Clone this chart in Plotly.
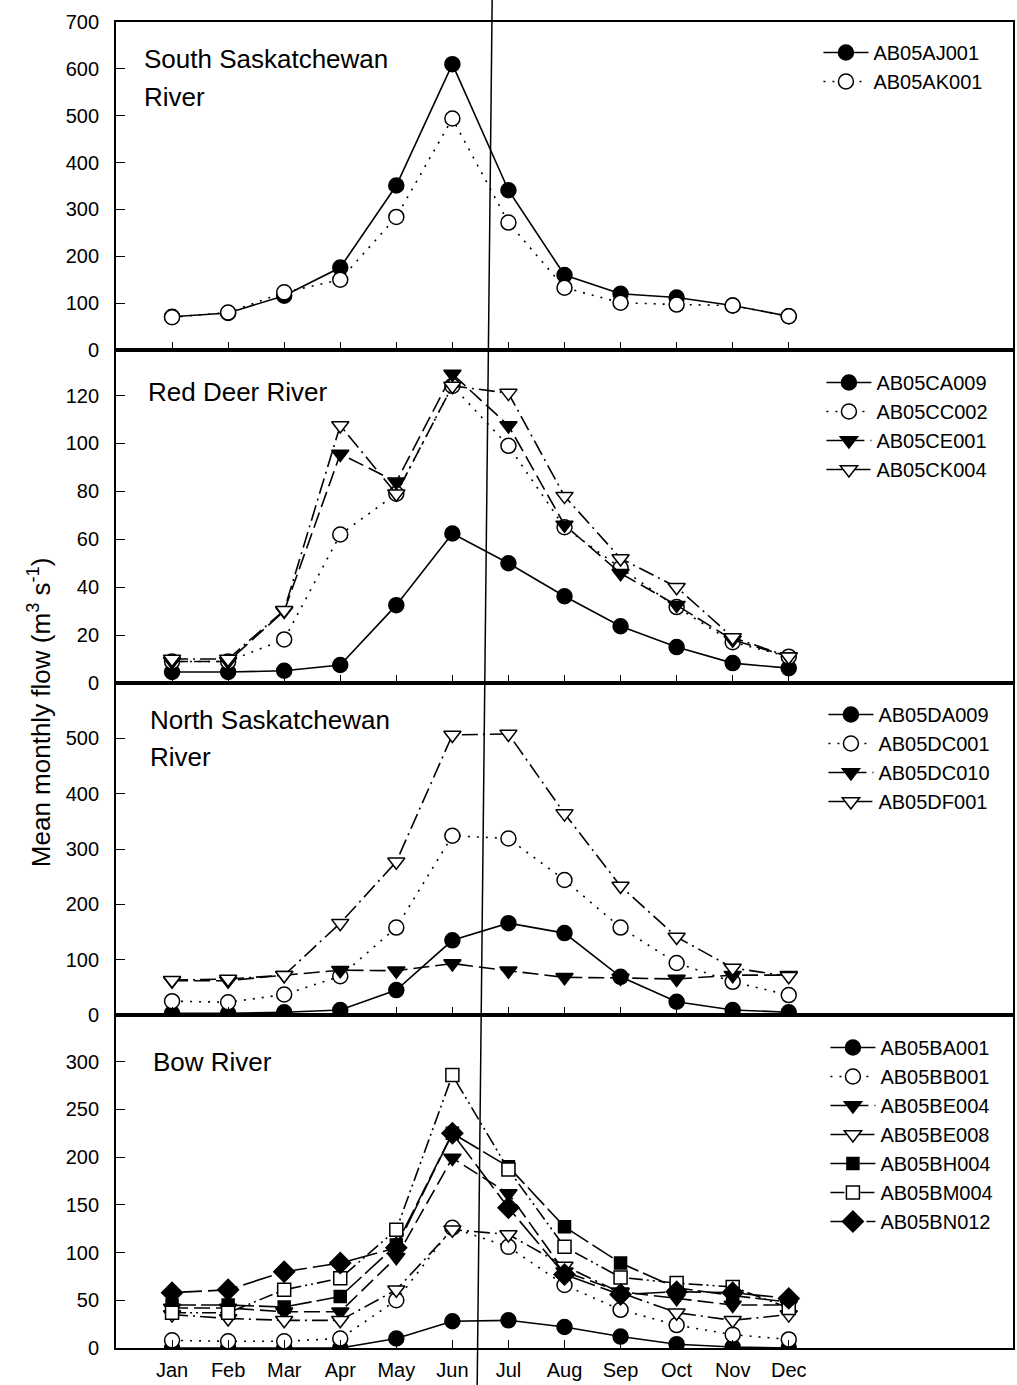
import plotly.graph_objects as go

# ---------------- data ----------------
months = ["Jan", "Feb", "Mar", "Apr", "May", "Jun", "Jul", "Aug", "Sep", "Oct", "Nov", "Dec"]

# South Saskatchewan River
AB05AJ001 = [71, 79, 116, 176, 351, 610, 341, 160, 120, 112, 95, 72]
AB05AK001 = [70, 80, 123, 150, 284, 494, 272, 133, 101, 97, 95, 72]

# Red Deer River
AB05CA009 = [4.6, 4.6, 5.1, 7.5, 32.5, 62.4, 50, 36.2, 23.7, 15, 8.3, 6.2]
AB05CC002 = [9, 9, 18.2, 62, 79, 124, 99, 65, 48, 31.7, 17, 11]
AB05CE001 = [9, 9, 30, 95.6, 84, 129, 107.5, 66, 45.8, 32.5, 18, 11]
AB05CK004 = [10, 10, 30.4, 107.5, 79, 124, 121, 78, 52, 40, 19, 11]

# North Saskatchewan River
AB05DA009 = [3, 3, 5, 9, 45, 135, 166, 148, 69, 24, 9, 5]
AB05DC001 = [25, 23, 37, 70, 158, 324, 319, 244, 158, 94, 60, 36]
AB05DC010 = [62, 62, 72, 81, 80, 93, 80, 68, 67, 65, 72, 72]
AB05DF001 = [63, 65, 72, 166, 277, 506, 508, 364, 233, 141, 85, 70]

# Bow River
AB05BA001 = [0, 0, 0, 0, 10, 28, 29, 22, 12, 4, 1, 0]
AB05BB001 = [8, 7, 7, 10, 50, 126, 106, 66, 40, 24, 14, 9]
AB05BE004 = [42, 42, 38, 38, 95, 199, 162, 80, 59, 52, 45, 45]
AB05BE008 = [35, 31, 29, 29, 61, 124, 119, 86, 58, 37, 29, 35]
AB05BH004 = [45, 45, 43, 54, 108, 225, 190, 127, 89, 63, 55, 48]
AB05BM004 = [37, 37, 61, 73, 124, 286, 187, 106, 74, 68, 64, 42]
AB05BN012 = [58, 61, 80, 89, 105, 225, 147, 77, 56, 59, 58, 52]

panel_titles = [["South Saskatchewan", "River"], ["Red Deer River"],
                ["North Saskatchewan", "River"], ["Bow River"]]
y_title = "Mean monthly flow (m<sup>3</sup> s<sup>-1</sup>)"

# ---------------- styles ----------------
FONT = "Liberation Sans, Arial, Helvetica, sans-serif"
W, H = 1017, 1385
ML, MR, MT, MB = 116, 2, 22, 37
PW, PH = W - ML - MR, H - MT - MB


def px_x(p):
    return (p - ML) / PW


def px_y(p):
    return (H - MB - p) / PH


STY = {
    "fcircle": dict(symbol="circle", size=15, fill="black", dash="solid"),
    "ocircle": dict(symbol="circle", size=15, fill="white", dash="2px,7px"),
    "ftri": dict(symbol="triangle-down", size=15, fill="black", dash="16px,6px"),
    "otri": dict(symbol="triangle-down", size=15, fill="white", dash="16px,5px,2px,5px"),
    "fsq": dict(symbol="square", size=12, fill="black", dash="24px,5px"),
    "osq": dict(symbol="square", size=13, fill="white", dash="14px,4px,2px,4px,2px,4px"),
    "fdia": dict(symbol="diamond", size=16, fill="black", dash="30px,6px"),
}

panels = [
    [("AB05AJ001", AB05AJ001, "fcircle"), ("AB05AK001", AB05AK001, "ocircle")],
    [("AB05CA009", AB05CA009, "fcircle"), ("AB05CC002", AB05CC002, "ocircle"),
     ("AB05CE001", AB05CE001, "ftri"), ("AB05CK004", AB05CK004, "otri")],
    [("AB05DA009", AB05DA009, "fcircle"), ("AB05DC001", AB05DC001, "ocircle"),
     ("AB05DC010", AB05DC010, "ftri"), ("AB05DF001", AB05DF001, "otri")],
    [("AB05BA001", AB05BA001, "fcircle"), ("AB05BB001", AB05BB001, "ocircle"),
     ("AB05BE004", AB05BE004, "ftri"), ("AB05BE008", AB05BE008, "otri"),
     ("AB05BH004", AB05BH004, "fsq"), ("AB05BM004", AB05BM004, "osq"),
     ("AB05BN012", AB05BN012, "fdia")],
]

# panel geometry (pixel boundaries top->bottom)
bounds = [MT, 350, 683, 1015, H - MB]
yranges = [[0, 700], [0, 139], [0, 600], [0, 349]]
ytickvals = [list(range(0, 701, 100)), list(range(0, 121, 20)),
             list(range(0, 501, 100)), list(range(0, 301, 50))]
legend_top_px = [33, 363, 695, 1028]
legend_x_px = [820, 823, 825, 827]
title_px = [[(142, 59), (142, 97)], [(146, 392)], [(148, 720), (148, 757)], [(151, 1062)]]

fig = go.Figure()
layout = dict(
    width=W, height=H,
    margin=dict(l=ML, r=MR, t=MT, b=MB),
    paper_bgcolor="white", plot_bgcolor="white",
    font=dict(family=FONT, color="black", size=20),
    showlegend=True,
)

annotations = []
for i, traces in enumerate(panels):
    n = i + 1
    xa = "x" if n == 1 else f"x{n}"
    ya = "y" if n == 1 else f"y{n}"
    lg = "legend" if n == 1 else f"legend{n}"
    for name, vals, sk in traces:
        s = STY[sk]
        fig.add_trace(go.Scatter(
            x=months, y=vals, name=name, mode="lines+markers",
            xaxis=xa, yaxis=ya, legend=lg,
            line=dict(color="black", width=1.6, dash=s["dash"]),
            marker=dict(symbol=s["symbol"], size=s["size"], color=s["fill"],
                        line=dict(color="black", width=1.5)),
        ))
    top, bot = bounds[i], bounds[i + 1]
    dom = [px_y(bot), px_y(top)]
    xkey = "xaxis" if n == 1 else f"xaxis{n}"
    ykey = "yaxis" if n == 1 else f"yaxis{n}"
    layout[xkey] = dict(
        domain=[0, 1], anchor=ya, type="category", categoryorder="array",
        categoryarray=months, range=[-1, 15], showgrid=False, zeroline=False,
        showline=True, linecolor="black", linewidth=1.8, mirror=True,
        ticks="inside", ticklen=8, tickcolor="black", tickwidth=1.3,
        showticklabels=(n == 4), tickfont=dict(size=20, family=FONT),
        ticklabelstandoff=3,
    )
    if n != 4:
        layout[xkey]["matches"] = "x4"
    layout[ykey] = dict(
        domain=dom, anchor=xa, range=yranges[i], tickvals=ytickvals[i],
        showgrid=False, zeroline=False, showline=True, linecolor="black",
        linewidth=1.8, mirror=True, ticks="inside", ticklen=9,
        tickcolor="black", tickwidth=1.3, tickfont=dict(size=20, family=FONT),
        ticklabelstandoff=11,
    )
    layout[lg] = dict(
        x=px_x(legend_x_px[i]), y=px_y(legend_top_px[i]), xref="paper", yref="paper",
        xanchor="left", yanchor="top", bgcolor="rgba(0,0,0,0)", borderwidth=0,
        font=dict(size=20, family=FONT, color="black"), itemwidth=45,
        tracegroupgap=0,
    )
    for txt, (tx, ty) in zip(panel_titles[i], title_px[i]):
        annotations.append(dict(
            text=txt, x=px_x(tx), y=px_y(ty), xref="paper", yref="paper",
            xanchor="left", yanchor="middle", showarrow=False,
            font=dict(size=26, family=FONT, color="black"),
        ))

annotations.append(dict(
    text=y_title, x=px_x(40), y=px_y(712), xref="paper", yref="paper",
    xanchor="center", yanchor="middle", textangle=-90, showarrow=False,
    font=dict(size=26, family=FONT, color="black"),
))
layout["annotations"] = annotations
layout["shapes"] = [dict(
    type="line", xref="paper", yref="paper",
    x0=px_x(493), y0=px_y(0), x1=px_x(478), y1=px_y(H),
    line=dict(color="black", width=1.5),
)]
fig.update_layout(**layout)
fig.write_html("out.html", config={"displayModeBar": False},
               post_script="document.body.style.margin='0';")
